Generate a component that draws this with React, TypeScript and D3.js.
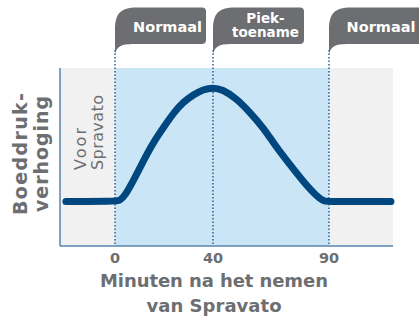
import React from 'react';
import * as d3 from 'd3';

// minutes after intake -> relative blood pressure rise (0..100)
const minutes = [-20, 0, 2, 4, 8, 12, 16, 20, 24, 28, 32, 36, 40, 44, 50, 56, 62, 67, 73, 79, 85, 88, 90, 114];
const rise = [25, 25, 25.5, 28, 38, 49, 59, 67, 75, 81, 85, 88, 89, 88, 83, 75, 66, 56, 46, 36, 27.5, 25, 25, 25];

const tickValues = [0, 40, 90];
const phaseStarts = [0, 40, 90];
const phaseLabels = [['Normaal'], ['Piek-', 'toename'], ['Normaal']];
const phaseEnds = [206, 304, 425];

const width = 419;
const height = 318;
const grey = '#6d6e71';
const font = '"DejaVu Sans", sans-serif';

function Callout({ x0, right, lines }: { x0: number; right: number; lines: string[] }) {
  const top = 7.5;
  const bottom = 44;
  const d = [
    `M${x0},55`,
    `L${x0},30`,
    `C${x0},14 ${x0 + 5},${top} ${x0 + 22},${top}`,
    `L${right - 4},${top}`,
    `Q${right},${top} ${right},${top + 4}`,
    `L${right},${bottom - 4}`,
    `Q${right},${bottom} ${right - 4},${bottom}`,
    `L${x0 + 18},${bottom}`,
    `C${x0 + 6},${bottom} ${x0 + 1},${bottom + 3} ${x0},55`,
    'Z',
  ].join(' ');
  const cx = (x0 + 14 + Math.min(right, 419)) / 2;
  return (
    <g>
      <path d={d} fill={grey} />
      {lines.length === 1 ? (
        <text x={cx} y={32} textAnchor="middle" fill="#fff" fontWeight={700} fontSize={14.5}>
          {lines[0]}
        </text>
      ) : (
        lines.map((l, i) => (
          <text key={i} x={cx} y={22.5 + i * 14.5} textAnchor="middle" fill="#fff" fontWeight={700} fontSize={13.5}>
            {l}
          </text>
        ))
      )}
    </g>
  );
}

export default function App() {
  const x = d3.scaleLinear().domain([-22.4, 0, 40, 90, 114.8]).range([60, 115, 213, 329, 393]);
  const y = d3.scaleLinear().domain([0, 100]).range([246, 68]);
  const pts = minutes.map((m, i) => [m, rise[i]] as [number, number]);
  const line = d3
    .line<[number, number]>()
    .x(d => x(d[0]))
    .y(d => y(d[1]))
    .curve(d3.curveBasis);

  const [x0, x1] = [x.range()[0], x.range()[4]];
  const [yb, yt] = y.range();

  return (
    <svg width={width} height={height} style={{ position: 'absolute', left: 0, top: 0 }} fontFamily={font}>
      <rect x={x0} y={yt} width={x1 - x0} height={yb - yt} fill="#f1f1f1" />
      <rect x={x(0)} y={yt} width={x(90) - x(0)} height={yb - yt} fill="#c9e5f6" />

      {phaseStarts.map((p, i) => (
        <line key={i} x1={x(p)} x2={x(p)} y1={50} y2={yb} stroke="#2b5f92" strokeWidth={1.5} strokeDasharray="1.5,2" />
      ))}
      {phaseStarts.map((p, i) => (
        <Callout key={i} x0={x(p)} right={phaseEnds[i]} lines={phaseLabels[i]} />
      ))}

      <path d={line(pts) || ''} fill="none" stroke="#00477f" strokeWidth={7} strokeLinecap="round" strokeLinejoin="round" />

      <line x1={x0} x2={x0} y1={yt} y2={yb} stroke="#5a82ad" strokeWidth={1.5} />
      <line x1={x0} x2={x1} y1={yb} y2={yb} stroke="#5a82ad" strokeWidth={1.5} />

      {tickValues.map(t => (
        <text key={t} x={x(t)} y={263} textAnchor="middle" fill={grey} fontWeight={700} fontSize={14.5}>
          {t}
        </text>
      ))}

      <text x={214} y={287} textAnchor="middle" fill={grey} fontWeight={700} fontSize={18} textLength={228} lengthAdjust="spacing">
        Minuten na het nemen
      </text>
      <text x={214} y={312} textAnchor="middle" fill={grey} fontWeight={700} fontSize={18} textLength={135} lengthAdjust="spacing">
        van Spravato
      </text>

      <g transform="translate(27,154) rotate(-90)">
        <text textAnchor="middle" fill={grey} fontWeight={700} fontSize={19} textLength={122} lengthAdjust="spacing">
          Boeddruk-
        </text>
        <text y={21} textAnchor="middle" fill={grey} fontWeight={700} fontSize={19} textLength={116} lengthAdjust="spacing">
          verhoging
        </text>
      </g>

      <g transform="translate(86,170) rotate(-90)">
        <text fill={grey} fontSize={16} textLength={42} lengthAdjust="spacing">
          Voor
        </text>
        <text y={17} fill={grey} fontSize={16} textLength={75} lengthAdjust="spacing">
          Spravato
        </text>
      </g>
    </svg>
  );
}
